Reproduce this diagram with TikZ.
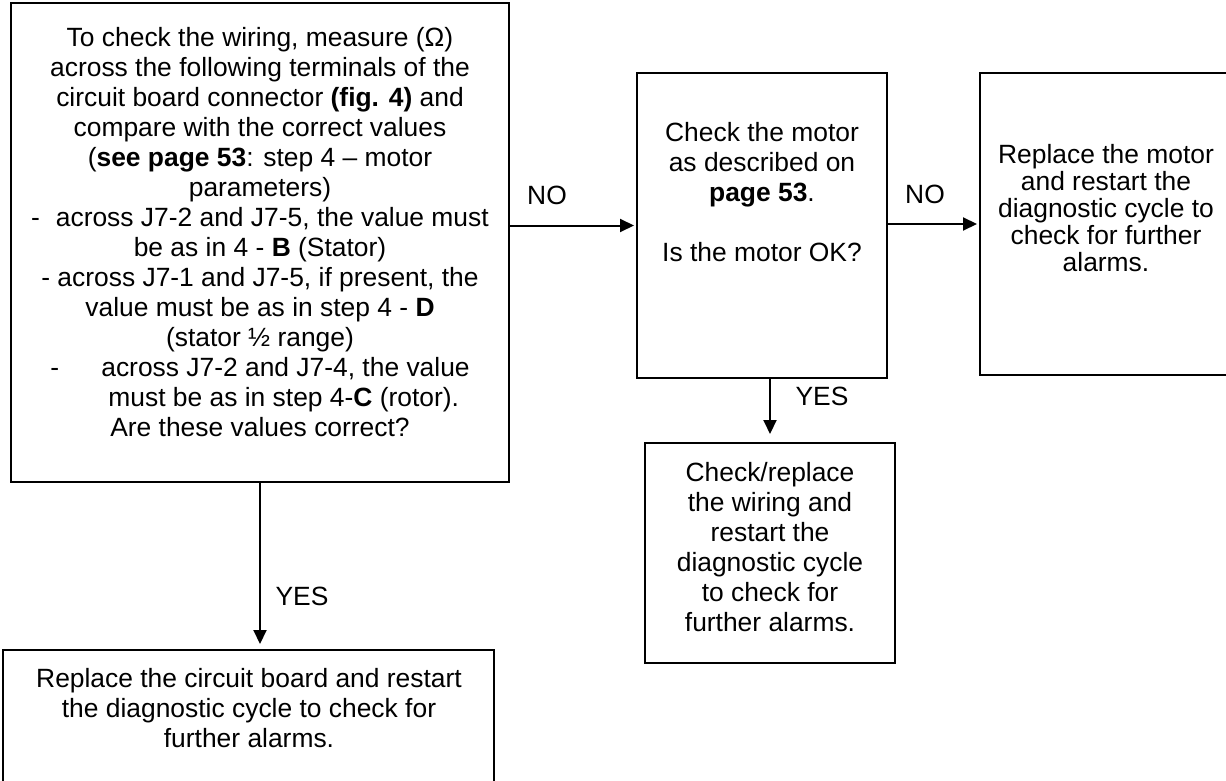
\documentclass[tikz,border=0pt]{standalone}
\usepackage{fontspec}
\setmainfont{Liberation Sans}
\usetikzlibrary{arrows.meta, positioning, calc}

\begin{document}
\begin{tikzpicture}[
    x=0.5pt, y=-0.5pt,
    font=\fontsize{13.2pt}{15pt}\selectfont,
    frame/.style={rectangle, draw=black, line width=1pt, inner sep=0pt},
    txt/.style={align=center, inner sep=0pt},
    a/.style={-{Triangle[length=7pt, width=6.5pt]}, line width=1pt},
    lab/.style={inner sep=0pt}
]
\useasboundingbox (0,0) rectangle (1226,781);
% ===== KHUNG =====
\node[frame, minimum width=249pt, minimum height=239.5pt] (chk)   at (260,242.5) {};
\node[frame, minimum width=125pt, minimum height=152.5pt] (motor) at (762,225.5) {};
\node[frame, minimum width=130pt, minimum height=151pt]   (repl)  at (1110,224)  {};
\node[frame, minimum width=125pt, minimum height=110pt]   (wire)  at (770,553)   {};
\node[frame, minimum width=245.5pt, minimum height=100pt] (board) at (248.5,750) {};
% ===== NOI DUNG =====
\node[txt] (chktxt) at (260,232)
    {To check the wiring, measure (Ω)\\
     across the following terminals of the\\
     circuit board connector \textbf{(fig. 4)} and\\
     compare with the correct values\\
     (\textbf{see page 53}: step 4 – motor\\
     parameters)\\
     -\hspace{0.6em}across J7-2 and J7-5, the value must\\
     be as in 4 - \textbf{B} (Stator)\\
     - across J7-1 and J7-5, if present, the\\
     value must be as in step 4 - \textbf{D}\\
     (stator ½ range)\\
     -\hspace{1.6em}across J7-2 and J7-4, the value\\
     \hspace*{1.8em}must be as in step 4-\textbf{C} (rotor).\\
     Are these values correct?};
\node[txt] (motortxt) at (762,192)
    {Check the motor\\ as described on\\ \textbf{page 53}.\\[15pt] Is the motor OK?};
\node[txt, font=\fontsize{13.2pt}{13.5pt}\selectfont] (repltxt) at (1106,208)
    {Replace the motor\\ and restart the\\ diagnostic cycle to\\ check for further\\ alarms.};
\node[txt] (wiretxt) at (770,547)
    {Check/replace\\ the wiring and\\ restart the\\ diagnostic cycle\\ to check for\\ further alarms.};
\node[txt] (boardtxt) at (249,708)
    {Replace the circuit board and restart\\ the diagnostic cycle to check for\\ further alarms.};
% ===== MUI TEN =====
\draw[a, shorten >=1pt] (chk.east |- motor.west) -- (motor.west);
\node[lab] (no1) at (547,195) {NO};
\draw[a, shorten >=1pt] (motor.east |- repl.west) -- (repl.west);
\node[lab] (no2) at (925,194) {NO};
\draw[a, shorten >=4pt] (motor.south -| wire.north) -- (wire.north);
\node[lab] (yes1) at (822,396) {YES};
\draw[a, shorten >=2.5pt] (chk.south) -- (chk.south |- board.north);
\node[lab] (yes2) at (302,596) {YES};
\end{tikzpicture}
\end{document}
